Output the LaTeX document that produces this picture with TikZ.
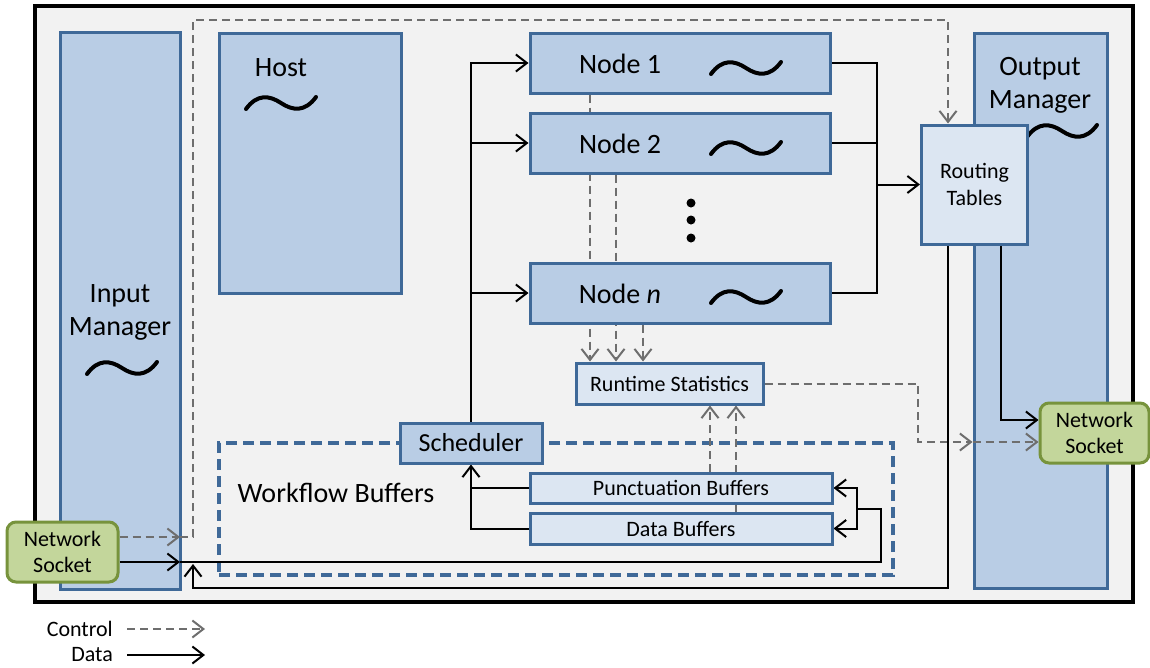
\documentclass[tikz,border=0pt]{standalone}
\usepackage{fontspec}
\setmainfont{Carlito}
\usetikzlibrary{arrows.meta}
\definecolor{bgc}{HTML}{F2F2F2}
\definecolor{bluef}{HTML}{B9CDE5}
\definecolor{lbluef}{HTML}{DCE6F2}
\definecolor{blueb}{HTML}{3F6998}
\definecolor{greenf}{HTML}{C3D69B}
\definecolor{greenb}{HTML}{77933C}
\definecolor{ctrl}{HTML}{6E6E6E}
\pgfdeclarelayer{back}
\pgfdeclarelayer{lines}
\pgfsetlayers{back,lines,main}
\begin{document}
\begin{tikzpicture}[x=1pt,y=-1pt,
  >={Straight Barb[length=11pt,width=17pt]},
  box/.style={draw=blueb,line width=3pt,fill=bluef,inner sep=0pt},
  lbox/.style={draw=blueb,line width=3pt,fill=lbluef,inner sep=0pt},
  sock/.style={draw=greenb,line width=3pt,fill=greenf,rounded corners=9pt,inner sep=0pt,align=center,font=\fontsize{22}{26}\selectfont},
  big/.style={font=\fontsize{28}{33}\selectfont,align=center,inner sep=0pt},
  small/.style={font=\fontsize{22}{27}\selectfont,align=center,inner sep=0pt},
  data/.style={line width=2pt,black},
  ctl/.style={line width=2pt,ctrl,dash pattern=on 8pt off 5pt},
  wig/.pic={\draw[line width=4pt,line cap=round] (-35,6) .. controls (-24,-9) and (-12,-8) .. (0,0) .. controls (12,8) and (24,9) .. (35,-6);}
]
\useasboundingbox (0,0) rectangle (1150,667);
\begin{pgfonlayer}{back}
\fill[white] (0,0) rectangle (1150,667);
\node[draw=black,line width=4.5pt,fill=bgc,minimum width=1098pt,minimum height=596pt,inner sep=0pt] (frame) at (584,304) {};
% big boxes
\node[box,minimum width=120pt,minimum height=557pt] (im) at (120,310.5) {};
\node[big] (imt) at (120,312) {Input\\Manager};
\pic at (122,368) {wig};
\node[box,minimum width=182pt,minimum height=260pt] (host) at (310,163) {};
\node[big] (hostt) at (281,68) {Host};
\pic at (281,103) {wig};
\node[box,minimum width=133pt,minimum height=555pt] (om) at (1040.5,310.5) {};
\node[big] (omt) at (1040,85) {Output\\Manager};
\pic at (1062,131) {wig};
% workflow buffers region
\node[draw=blueb,line width=4pt,dash pattern=on 11pt off 6pt,minimum width=674pt,minimum height=132pt,inner sep=0pt] (wf) at (556,509) {};
\node[big] (wft) at (336,493) {Workflow Buffers};
\end{pgfonlayer}

% boxes
\node[box,minimum width=300pt,minimum height=60pt] (n1) at (680,63) {};
\node[box,minimum width=300pt,minimum height=60pt] (n2) at (680,143) {};
\node[box,minimum width=300pt,minimum height=60pt] (nn) at (680,293) {};
\node[lbox,minimum width=187pt,minimum height=41pt,small] (rs) at (669.5,383.5) {Runtime Statistics};
\node[lbox,minimum width=302pt,minimum height=30pt,small] (pb) at (681,488) {Punctuation Buffers};
\node[lbox,minimum width=302pt,minimum height=31pt,small] (db) at (681,528.5) {Data Buffers};
\node[box,minimum width=142pt,minimum height=40pt,font=\fontsize{26}{30}\selectfont] (sch) at (471,443) {Scheduler};
\node[lbox,minimum width=106pt,minimum height=119pt,small] (rt) at (974.5,184.5) {Routing\\Tables};
\node[sock,minimum width=111pt,minimum height=60pt] (lsock) at (62.5,552) {Network\\Socket};
\node[sock,minimum width=109pt,minimum height=60pt] (rsock) at (1094.5,433) {Network\\Socket};

% node labels
\node[big] (n1t) at (620,64) {Node 1};
\node[big] (n2t) at (620,144) {Node 2};
\node[big] (nnt) at (620,294) {Node \textit{n}};
\pic at (746,68) {wig};
\pic at (746,148) {wig};
\pic at (746,297) {wig};
\fill (691,203) circle (4.5);
\fill (691,220) circle (4.5);
\fill (691,238) circle (4.5);

% coordinates
\coordinate (din) at (180,562);
\coordinate (cin) at (180,537);
\coordinate (tl) at (193,20);
\coordinate (bot) at (193,588);
\coordinate (ret) at (193,564);
\coordinate (jr) at (877,184.5);
\coordinate (bk) at (881,509);
\coordinate (bj) at (857,509);
\coordinate (ck) at (918,442);

\begin{pgfonlayer}{lines}
% control lines
\draw[ctl,->] (lsock.east |- cin) -- (cin);
\draw[ctl,->] (cin) -| (tl) -| ([xshift=-26.5pt]rt.north);
\draw[ctl,->] (rs.east) -| (ck) -- (om.west |- ck);
\draw[ctl,->] (om.west |- ck) -- (rsock.west |- ck);
\draw[ctl,->] ([xshift=-90pt]n1.south) -- ([xshift=-79.5pt]rs.north);
\draw[ctl,->] ([xshift=-64pt]n2.south) -- ([xshift=-53.5pt]rs.north);
\draw[ctl,->] ([xshift=-37pt]nn.south) -- ([xshift=-26.5pt]rs.north);
\draw[ctl,->] ([xshift=29pt]pb.north) -- ([xshift=40.5pt]rs.south);
\draw[ctl,->] ([xshift=55pt]db.north) -- ([xshift=66.5pt]rs.south);
% data lines
\draw[data,->] (sch.north) |- (n1.west);
\draw[data,->] (sch.north |- n2.west) -- (n2.west);
\draw[data,->] (sch.north |- nn.west) -- (nn.west);
\draw[data] (n1.east) -| (jr);
\draw[data] (nn.east) -| (jr);
\draw[data] (n2.east) -- (n2.east -| jr);
\draw[data,->] (jr) -- (rt.west);
\draw[data,->] (pb.west) -| (sch.south);
\draw[data] (db.west) -| (sch.south |- pb.west);
\draw[data,->] (lsock.east |- din) -- (din);
\draw[data] (din) -| (bk) -- (bj);
\draw[data,->] (bj) |- (pb.east);
\draw[data,->] (bj) |- (db.east);
\draw[data,->] ([xshift=-26.5pt]rt.south) |- (bot) -- (ret);
\draw[data,->] ([xshift=26.5pt]rt.south) |- ([yshift=13pt]rsock.west);
\end{pgfonlayer}

% legend
\node[small,anchor=east] (lc) at (113,629) {Control};
\node[small,anchor=east] (ld) at (113,655) {Data};
\draw[ctl,->] ([xshift=14pt]lc.east) -- ++(78,0);
\draw[data,->] ([xshift=14pt]ld.east) -- ++(78,0);
\end{tikzpicture}
\end{document}
